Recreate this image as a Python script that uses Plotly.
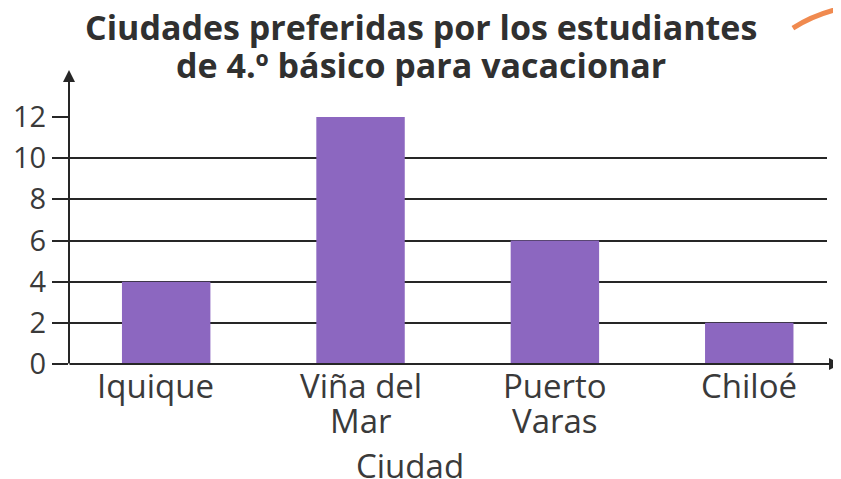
import plotly.graph_objects as go

ciudades = ["Iquique", "Viña del<br>Mar", "Puerto<br>Varas", "Chiloé"]
estudiantes = [4, 12, 6, 2]
y_ticks = [0, 2, 4, 6, 8, 10, 12]

title_text = "Ciudades preferidas por los estudiantes<br>de 4.º básico para vacacionar"
x_title = "Ciudad"

FONT = "Open Sans, Roboto, sans-serif"
TXT = "#3a3a3a"
AX = "#262626"

fig = go.Figure(go.Bar(
    x=list(range(len(ciudades))), y=estudiantes,
    marker=dict(color="#8c67c0", line=dict(width=0)),
    width=0.455,
))

# the page body adds an 8px offset, so the figure is 8px smaller and shifted
fig.update_layout(
    width=833, height=471,
    margin=dict(l=61, r=14, t=109, b=115),
    paper_bgcolor="white", plot_bgcolor="white",
    showlegend=False,
    font=dict(family=FONT, color=TXT, size=26),
    xaxis=dict(
        range=[-0.5, 3.4],
        tickmode="array", tickvals=list(range(len(ciudades))), ticktext=ciudades,
        showticklabels=False,
        showgrid=False, zeroline=False, showline=False, ticks="",
        automargin=False, fixedrange=True,
    ),
    yaxis=dict(
        range=[0, 12], tickmode="array", tickvals=y_ticks,
        showgrid=True, gridcolor=AX, gridwidth=2,
        zeroline=False, showline=False,
        ticks="outside", ticklen=16, tickwidth=2, tickcolor=AX,
        tickfont=dict(size=29, color=TXT, family=FONT),
        automargin=False, fixedrange=True,
    ),
)

# title, line by line
for j, line in enumerate(title_text.split("<br>")):
    fig.add_annotation(text="<b>" + line + "</b>",
                       x=0.464, y=1, xref="x domain", yref="y domain",
                       xanchor="center", yanchor="middle", yshift=90 - 38 * j,
                       showarrow=False, font=dict(size=34, color="#303030", family=FONT))

# category labels (line by line for tight spacing)
for i, lab in enumerate(ciudades):
    for j, line in enumerate(lab.split("<br>")):
        fig.add_annotation(text=line, x=i, y=0, xref="x", yref="y domain",
                           xanchor="center", yanchor="middle", yshift=-21 - 35 * j,
                           xshift=-11 if i == 0 else 0,
                           showarrow=False, font=dict(size=33, color=TXT, family=FONT))

# x axis title
fig.add_annotation(text=x_title, x=0.45, y=0, xref="x domain", yref="y domain",
                   xanchor="center", yanchor="middle", yshift=-101, showarrow=False,
                   font=dict(size=33, color=TXT, family=FONT))

# axes with arrows
fig.add_annotation(x=0, y=1.19, xref="x domain", yref="y domain", ax=0, ay=295,
                   showarrow=True, arrowhead=2, arrowsize=1.2, arrowwidth=2,
                   arrowcolor=AX, text="")
fig.add_annotation(x=1.0185, y=0, xref="x domain", yref="y domain", ax=-773, ay=0,
                   showarrow=True, arrowhead=2, arrowsize=1.2, arrowwidth=2,
                   arrowcolor=AX, text="")

# decorative orange stroke
fig.add_shape(type="path", xref="paper", yref="paper",
              path="M 0.955 1.36 Q 0.984 1.417 1.02 1.441",
              line=dict(color="#f08a4f", width=5))

fig.write_html("out.html")
